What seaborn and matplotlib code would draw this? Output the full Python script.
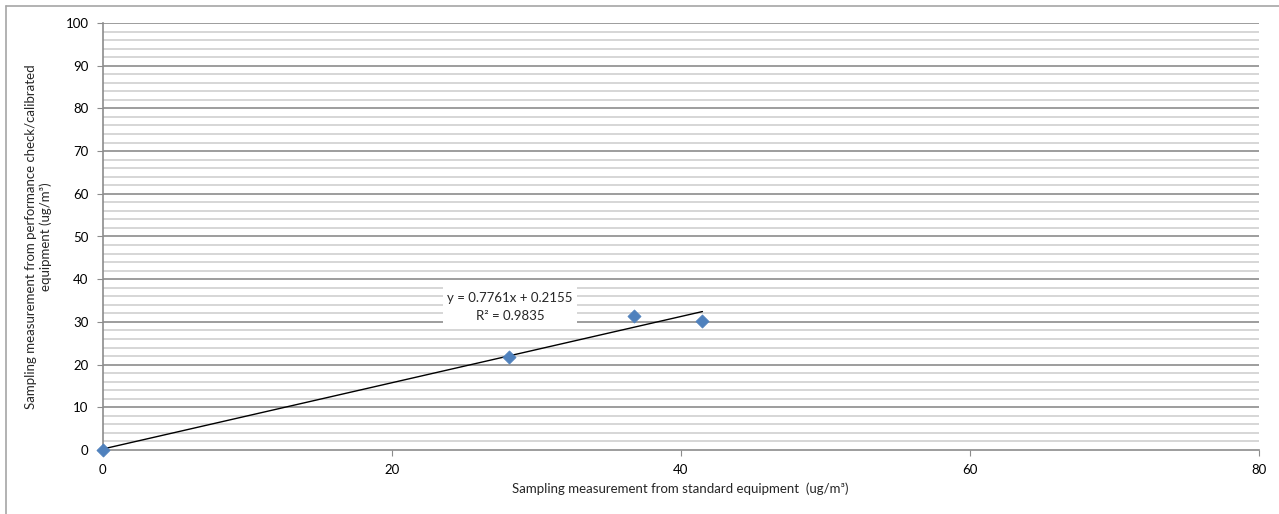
import numpy as np
import seaborn as sns
import matplotlib.pyplot as plt
from matplotlib.lines import Line2D

# values
standard = [0, 28.1, 36.8, 41.5]
calibrated = [0, 21.8, 31.3, 30.3]
slope = 0.7761
intercept = 0.2155
r2 = 0.9835

sns.set_style("white")
plt.rcParams['font.family'] = ['Lato', 'DejaVu Sans']

fig = plt.figure(figsize=(12.79, 5.14), dpi=100)
ax = fig.add_axes([102.5 / 1279, 64 / 514, (1259 - 102.5) / 1279, (450 - 23) / 514])

# gridlines: minor every 2, major every 10
for v in np.arange(2, 101, 2):
    major = v % 10 == 0
    ax.axhline(v, color="#8c8c8c" if major else "#d0d0d0", lw=1.2, zorder=0)

# trendline over data range
xs = np.array([min(standard), max(standard)])
ax.plot(xs, slope * xs + intercept, color="black", lw=1.0, zorder=2)

sns.scatterplot(x=standard, y=calibrated, marker="D", s=45, color="#4f81bd",
                edgecolor="#4f81bd", linewidth=0.5, ax=ax, zorder=3, clip_on=False)

ax.text(28.2, 33.6, f"y = {slope}x + {intercept}\nR² = {r2}",
        ha="center", va="center", fontsize=9.5, linespacing=1.6,
        bbox=dict(facecolor="white", edgecolor="none", pad=3), zorder=4)

ax.set_xlim(0, 80)
ax.set_ylim(0, 100)
ax.set_xticks([0, 20, 40, 60, 80])
ax.set_yticks(range(0, 101, 10))
ax.tick_params(axis="both", labelsize=9.5, colors="#000000", length=4,
               color="#8c8c8c", direction="out", left=True, bottom=True, pad=6)
for s in ["top", "right"]:
    ax.spines[s].set_visible(False)
for s in ["left", "bottom"]:
    ax.spines[s].set_color("#8c8c8c")
    ax.spines[s].set_linewidth(1.2)

ax.set_xlabel("Sampling measurement from standard equipment  (ug/m³)", fontsize=9.5, labelpad=5)
ax.set_ylabel("Sampling measurement from performance check/calibrated\nequipment (ug/m³)",
              fontsize=9.5, labelpad=10)

# outer chart frame (left and top edges visible)
fig.add_artist(Line2D([6 / 1279, 6 / 1279], [0, 1 - 6 / 514], color="#a6a6a6", lw=1.2))
fig.add_artist(Line2D([6 / 1279, 1], [1 - 6 / 514, 1 - 6 / 514], color="#a6a6a6", lw=1.2))

fig.savefig("out.png", dpi=100)
